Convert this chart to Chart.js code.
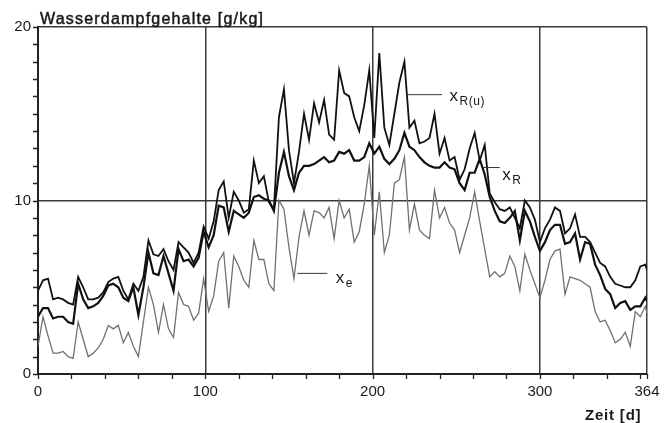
<!DOCTYPE html>
<html lang="de">
<head>
    <meta charset="UTF-8">
    <title>Wasserdampfgehalte</title>
    <script src="https://cdn.jsdelivr.net/npm/chart.js"></script>
    <style>
        html, body { margin: 0; padding: 0; background: #fff; }
        #wrap { width: 668px; height: 423px; }
    </style>
</head>
<body>
<div id="wrap"><canvas id="myChart" width="668" height="423"></canvas></div>
<script>
    // Zeit in Tagen
    const tage = [
        0, 3, 6, 9, 12, 15, 18, 21, 24, 27,
        30, 33, 36, 39, 42, 45, 48, 51, 54, 57,
        60, 63, 66, 69, 72, 75, 78, 81, 84, 87,
        90, 93, 96, 99, 102, 105, 108, 111, 114, 117,
        120, 123, 126, 129, 132, 135, 138, 141, 144, 147,
        150, 153, 156, 159, 162, 165, 168, 171, 174, 177,
        180, 183, 186, 189, 192, 195, 198, 201, 204, 207,
        210, 213, 216, 219, 222, 225, 228, 231, 234, 237,
        240, 243, 246, 249, 252, 255, 258, 261, 264, 267,
        270, 273, 276, 279, 282, 285, 288, 291, 294, 297,
        300, 303, 306, 309, 312, 315, 318, 321, 324, 327,
        330, 333, 336, 339, 342, 345, 348, 351, 354, 357,
        360, 363, 364
    ];

    // x_R(u) [g/kg]
    const xRu = [
        4.8, 5.4, 5.5, 4.3, 4.4, 4.3, 4.1, 4.0, 5.6, 5.0,
        4.3, 4.3, 4.4, 4.7, 5.3, 5.5, 5.6, 4.8, 4.3, 5.2,
        4.8, 5.6, 7.7, 6.9, 6.8, 7.2, 6.5, 6.0, 7.6, 7.3,
        7.0, 6.4, 7.0, 8.5, 7.8, 8.8, 10.6, 11.1, 9.0, 10.5,
        10.0, 9.3, 9.5, 12.3, 11.0, 11.4, 9.9, 9.5, 14.8, 16.4,
        12.9, 11.0, 12.8, 15.0, 13.5, 15.6, 14.5, 15.8, 13.8, 13.5,
        17.5, 16.2, 16.0, 14.8, 14.0, 15.5, 17.5, 13.6, 18.5, 14.2,
        13.2, 15.0, 16.8, 18.0, 14.2, 14.6, 13.3, 13.4, 13.6, 15.0,
        12.7, 13.6, 12.3, 12.5, 11.2, 11.8, 13.0, 13.9, 12.3, 13.2,
        10.4, 9.9, 9.5, 9.4, 9.6, 9.0, 8.4, 10.0, 9.6, 8.9,
        7.6, 8.4, 8.9, 9.6, 9.4, 8.1, 8.4, 9.2, 7.9, 7.9,
        7.6, 7.0, 6.4, 6.2, 5.6, 5.2, 5.1, 5.0, 5.0, 5.4,
        6.2, 6.3, 6.0
    ];

    // x_R [g/kg]
    const xR = [
        3.3, 3.8, 3.8, 3.2, 3.3, 3.3, 3.0, 2.9, 5.2, 4.3,
        3.8, 3.9, 4.1, 4.5, 5.1, 5.2, 5.0, 4.4, 4.2, 5.0,
        3.4, 5.0, 7.0, 5.8, 5.7, 6.8, 5.8, 4.8, 7.2, 6.5,
        6.6, 6.2, 6.7, 8.2, 7.3, 8.0, 9.7, 9.6, 8.2, 9.4,
        9.2, 9.0, 9.3, 10.2, 10.3, 10.1, 10.0, 9.4, 11.6, 12.8,
        11.4, 10.6, 11.6, 12.0, 12.0, 12.1, 12.3, 12.5, 12.2, 12.3,
        12.8, 12.7, 12.9, 12.3, 12.3, 12.5, 13.3, 12.7, 13.1, 12.4,
        12.1, 12.4, 12.9, 13.9, 13.1, 12.9, 12.5, 12.2, 12.0, 11.9,
        11.9, 12.2, 11.9, 11.8, 11.0, 10.6, 11.6, 11.6, 12.4, 11.5,
        10.2, 9.4, 8.8, 8.7, 9.0, 9.4, 7.7, 9.4, 8.8, 7.9,
        7.1, 7.6, 8.3, 8.6, 8.6, 7.5, 7.6, 8.1, 6.6, 7.6,
        7.5, 6.3, 5.7, 4.9, 4.6, 3.8, 4.1, 4.2, 3.7, 3.9,
        3.9, 4.4, 4.2
    ];

    // x_e (aussen) [g/kg]
    const xe = [
        1.6, 3.3, 2.2, 1.2, 1.2, 1.3, 1.0, 0.9, 3.0, 2.0,
        1.0, 1.2, 1.5, 2.0, 2.8, 2.6, 2.8, 1.8, 2.4, 1.6,
        1.0, 3.0, 5.0, 4.0, 2.4, 4.0, 2.6, 2.1, 4.7, 4.0,
        3.9, 3.1, 3.5, 5.5, 3.6, 4.5, 6.5, 7.0, 3.8, 6.8,
        6.2, 5.4, 5.0, 7.7, 6.6, 6.6, 5.2, 4.8, 10.0, 9.5,
        7.3, 5.5, 7.9, 9.4, 8.0, 9.4, 9.3, 9.0, 9.6, 7.8,
        10.0, 9.0, 9.5, 7.6, 8.2, 9.8, 12.0, 8.0, 10.5, 7.0,
        8.0, 11.0, 11.2, 12.5, 8.3, 9.8, 8.3, 8.0, 7.8, 10.6,
        9.0, 9.6, 8.7, 8.3, 7.0, 8.0, 9.0, 10.5, 8.8, 7.2,
        5.6, 5.9, 5.6, 5.8, 6.8, 6.2, 4.8, 6.9, 6.0, 5.2,
        4.4, 5.4, 6.6, 7.1, 7.2, 4.6, 5.6, 5.5, 5.4, 5.2,
        5.0, 3.6, 3.0, 3.1, 2.5, 1.8, 2.0, 2.4, 1.6, 3.6,
        3.3, 3.9, 3.5
    ];

    // Achsen
    const xTicks = [0, 20, 40, 60, 80, 100, 120, 140, 160, 180, 200, 220, 240, 260, 280, 300, 320, 340, 360, 364];
    const xLabels = [0, 100, 200, 300, 364];
    const xGrid = [100, 200, 300, 364];
    const yTicks = [0, 1, 2, 3, 4, 5, 6, 7, 8, 9, 10, 11, 12, 13, 14, 15, 16, 17, 18, 19, 20];
    const yLabels = [0, 10, 20];
    const yGrid = [10, 20];

    const toPoints = vals => vals.map((v, i) => ({ x: tage[i], y: v }));

    // Beschriftung der Kurven (Position in Datenkoordinaten)
    const kurvenLabels = [
        { sub: 'R(u)', line: [221, 241.5, 16.1], text: [246, 15.75] },
        { sub: 'R', line: [266, 276, 11.9], text: [277.5, 11.2] },
        { sub: 'e', line: [155, 173, 5.8], text: [178, 5.25] }
    ];

    const textPlugin = {
        id: 'texte',
        afterDraw(chart) {
            const ctx = chart.ctx;
            const xs = chart.scales.x, ys = chart.scales.y;
            const area = chart.chartArea;
            ctx.save();

            // Teilstriche an den Achsen
            ctx.strokeStyle = '#222';
            ctx.lineWidth = 1.3;
            ctx.beginPath();
            xTicks.forEach(v => {
                const px = Math.round(xs.getPixelForValue(v)) + 0.5;
                ctx.moveTo(px, area.bottom);
                ctx.lineTo(px, area.bottom + 5);
            });
            yTicks.forEach(v => {
                const py = Math.round(ys.getPixelForValue(v)) + 0.5;
                ctx.moveTo(area.left - 5, py);
                ctx.lineTo(area.left, py);
            });
            ctx.stroke();

            ctx.fillStyle = '#1a1a1a';
            ctx.strokeStyle = '#1a1a1a';
            ctx.textBaseline = 'alphabetic';
            ctx.textAlign = 'left';

            // Titel (leicht fett wie im Scan)
            ctx.font = '16px "Liberation Sans", Arial, sans-serif';
            ctx.letterSpacing = '1.2px';
            ctx.lineWidth = 0.5;
            ctx.fillText('Wasserdampfgehalte [g/kg]', 40, 24);
            ctx.strokeText('Wasserdampfgehalte [g/kg]', 40, 24);

            // x-Achsentitel
            ctx.font = 'bold 15px "Liberation Sans", Arial, sans-serif';
            ctx.letterSpacing = '0.8px';
            ctx.fillText('Zeit [d]', 585, 420);
            ctx.letterSpacing = '0px';

            // Kurvenbezeichnungen
            kurvenLabels.forEach(k => {
                ctx.strokeStyle = '#333';
                ctx.lineWidth = 1;
                ctx.beginPath();
                ctx.moveTo(xs.getPixelForValue(k.line[0]), ys.getPixelForValue(k.line[2]));
                ctx.lineTo(xs.getPixelForValue(k.line[1]), ys.getPixelForValue(k.line[2]));
                ctx.stroke();
                const tx = xs.getPixelForValue(k.text[0]);
                const ty = ys.getPixelForValue(k.text[1]);
                ctx.font = '17px "Liberation Sans", Arial, sans-serif';
                ctx.fillText('x', tx, ty);
                ctx.font = '12px "Liberation Sans", Arial, sans-serif';
                ctx.letterSpacing = '0.5px';
                ctx.fillText(k.sub, tx + 10, ty + 4);
                ctx.letterSpacing = '0px';
            });
            ctx.restore();
        }
    };

    const ctx = document.getElementById('myChart').getContext('2d');
    const myChart = new Chart(ctx, {
        type: 'line',
        data: {
            datasets: [
                {
                    label: 'x_R(u)',
                    data: toPoints(xRu),
                    borderColor: '#111',
                    borderWidth: 1.8,
                    pointRadius: 0,
                    tension: 0,
                    fill: false
                },
                {
                    label: 'x_R',
                    data: toPoints(xR),
                    borderColor: '#111',
                    borderWidth: 2.2,
                    pointRadius: 0,
                    tension: 0,
                    fill: false
                },
                {
                    label: 'x_e',
                    data: toPoints(xe),
                    borderColor: '#707070',
                    borderWidth: 1.3,
                    pointRadius: 0,
                    tension: 0,
                    fill: false
                }
            ]
        },
        options: {
            responsive: false,
            animation: false,
            layout: { padding: { top: 27, right: 21, left: 0, bottom: 0 } },
            plugins: {
                legend: { display: false },
                tooltip: { enabled: false }
            },
            scales: {
                x: {
                    type: 'linear',
                    min: 0,
                    max: 364,
                    afterBuildTicks: scale => { scale.ticks = xTicks.map(v => ({ value: v })); },
                    afterFit: scale => { scale.height = 49; },
                    ticks: {
                        autoSkip: false,
                        maxRotation: 0,
                        padding: 4,
                        color: '#1a1a1a',
                        font: { family: '"Liberation Sans", Arial, sans-serif', size: 15 },
                        callback: v => xLabels.includes(v) ? String(v) : ''
                    },
                    grid: {
                        color: c => (c.tick && xGrid.includes(c.tick.value)) ? '#3a3a3a' : 'rgba(0,0,0,0)',
                        lineWidth: 1.5,
                        drawTicks: true,
                        tickColor: 'rgba(0,0,0,0)',
                        tickLength: 5
                    },
                    border: { display: true, color: '#222', width: 2 }
                },
                y: {
                    min: 0,
                    max: 20,
                    afterBuildTicks: scale => { scale.ticks = yTicks.map(v => ({ value: v })); },
                    afterFit: scale => { scale.width = 38; },
                    ticks: {
                        autoSkip: false,
                        padding: 2,
                        color: '#1a1a1a',
                        font: { family: '"Liberation Sans", Arial, sans-serif', size: 15 },
                        callback: v => yLabels.includes(v) ? String(v) : ''
                    },
                    grid: {
                        color: c => (c.tick && yGrid.includes(c.tick.value)) ? '#3a3a3a' : 'rgba(0,0,0,0)',
                        lineWidth: 1.5,
                        drawTicks: true,
                        tickColor: 'rgba(0,0,0,0)',
                        tickLength: 5
                    },
                    border: { display: true, color: '#222', width: 2 }
                }
            }
        },
        plugins: [textPlugin]
    });
</script>
</body>
</html>
